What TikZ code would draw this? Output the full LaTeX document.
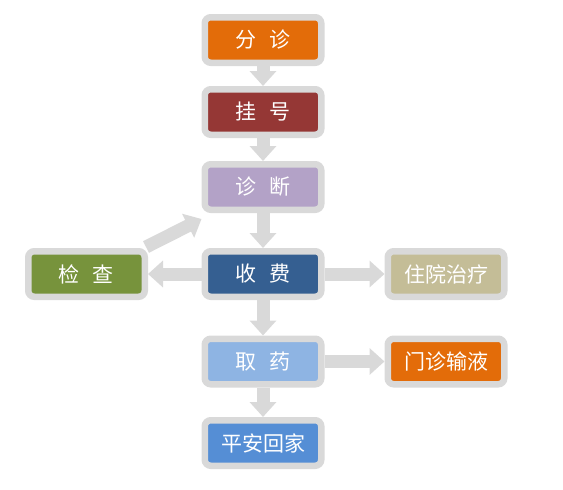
\documentclass[tikz,border=0pt]{standalone}
\usepackage{fontspec}
\newfontfamily\cjk{Noto Sans CJK SC}
\usetikzlibrary{arrows.meta,calc}
\definecolor{framegray}{HTML}{D9D9D9}
\definecolor{cOrange}{HTML}{E36C09}
\definecolor{cRed}{HTML}{953735}
\definecolor{cLav}{HTML}{B3A2C7}
\definecolor{cBlue}{HTML}{355F91}
\definecolor{cGreen}{HTML}{77933C}
\definecolor{cTan}{HTML}{C4BD97}
\definecolor{cLight}{HTML}{8EB4E3}
\definecolor{cMid}{HTML}{558ED5}
\tikzset{
  box/.style={draw=framegray, line width=6.5pt, rounded corners=6pt,
    minimum width=116.5pt, minimum height=45.5pt, inner sep=0pt,
    text=white, font=\cjk\fontsize{21}{23}\selectfont},
  flow/.style={draw=framegray, line width=13pt,
    -{Triangle[length=15pt,width=26pt]}}
}
\newcommand{\gp}{\hspace{0.62em}}
\begin{document}
\begin{tikzpicture}[x=1pt,y=-1pt]
\useasboundingbox (0,0) rectangle (563,490);
\node[box, fill=cOrange] (fz) at (263,40) {分\gp 诊};
\node[box, fill=cRed] (gh) at (263,112) {挂\gp 号};
\node[box, fill=cLav] (zd) at (263,187) {诊\gp 断};
\node[box, fill=cBlue] (sf) at (263,274) {收\gp 费};
\node[box, fill=cGreen] (jc) at (86.5,274) {检\gp 查};
\node[box, fill=cTan] (zy) at (446,274) {住院治疗};
\node[box, fill=cLight] (qy) at (263,361.5) {取\gp 药};
\node[box, fill=cOrange] (mz) at (446,361.5) {门诊输液};
\node[box, fill=cMid] (pa) at (263,443) {平安回家};
\coordinate (dstart) at ($(jc.north east)+(-2,-1)$);
\coordinate (dend) at ($(zd.south west)+(0,6)$);
\draw[flow] (fz.south) -- (gh.north);
\draw[flow] (gh.south) -- (zd.north);
\draw[flow] (zd.south) -- (sf.north);
\draw[flow] (sf.west) -- (jc.east);
\draw[flow] (sf.east) -- (zy.west);
\draw[flow] (sf.south) -- (qy.north);
\draw[flow] (qy.east) -- (mz.west);
\draw[flow] (qy.south) -- (pa.north);
\draw[flow] (dstart) -- (dend);
\end{tikzpicture}
\end{document}
